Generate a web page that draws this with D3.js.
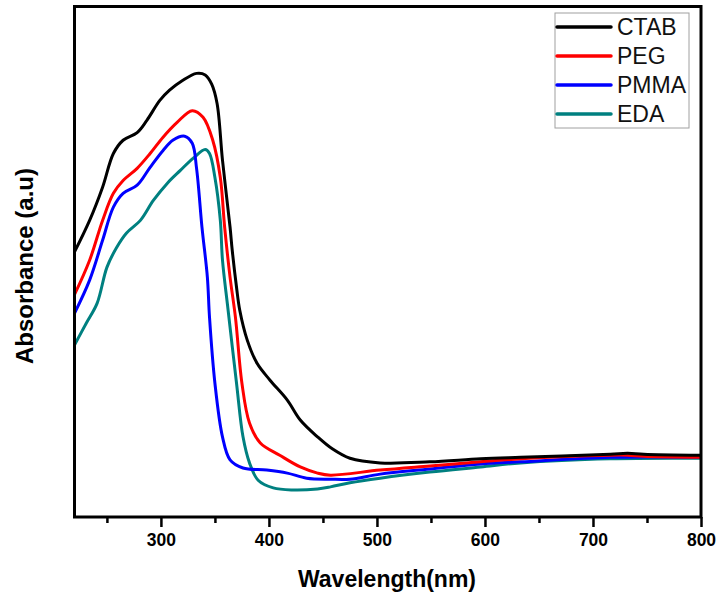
<!DOCTYPE html>
<html>
<head>
<meta charset="utf-8">
<script src="https://cdn.jsdelivr.net/npm/d3@7"></script>
<style>
  html, body { margin: 0; padding: 0; background: #fff; }
  svg { display: block; }
  text { font-family: "Liberation Sans", Arial, sans-serif; }
</style>
</head>
<body>
<svg id="chart" width="717" height="594"></svg>
<script>
// UV-Vis absorbance spectra of the four samples (wavelength in nm, absorbance in a.u.)
const seriesNames = ["CTAB", "PEG", "PMMA", "EDA"];
const seriesColors = ["#000000", "#ff0000", "#0000ff", "#008080"];

const ctabWavelength = [219, 234, 246, 256, 265, 278, 287, 299, 308, 320, 333, 341, 347, 352, 357, 364, 366, 370, 373, 380, 389, 401, 417, 429, 445, 459, 475, 503, 549, 596, 633, 716, 732, 747, 800];
const ctabAbsorbance = [0.515, 0.581, 0.646, 0.712, 0.738, 0.753, 0.777, 0.816, 0.836, 0.855, 0.869, 0.866, 0.848, 0.810, 0.699, 0.568, 0.523, 0.450, 0.405, 0.346, 0.301, 0.268, 0.229, 0.190, 0.157, 0.133, 0.115, 0.106, 0.108, 0.114, 0.117, 0.123, 0.125, 0.123, 0.121];

const pegWavelength = [219, 234, 246, 256, 265, 278, 290, 302, 315, 329, 339, 348, 355, 359, 364, 369, 375, 382, 392, 410, 429, 445, 457, 503, 549, 596, 633, 716, 732, 747, 800];
const pegAbsorbance = [0.431, 0.503, 0.581, 0.634, 0.659, 0.683, 0.712, 0.744, 0.773, 0.796, 0.783, 0.738, 0.665, 0.568, 0.470, 0.391, 0.262, 0.184, 0.145, 0.121, 0.098, 0.086, 0.082, 0.092, 0.100, 0.108, 0.114, 0.121, 0.121, 0.119, 0.117];

const pmmaWavelength = [220, 234, 246, 256, 265, 278, 290, 302, 311, 322, 329, 333, 338, 343, 345, 350, 357, 364, 376, 398, 417, 435, 457, 475, 503, 549, 596, 633, 716, 800];
const pmmaAbsorbance = [0.399, 0.464, 0.542, 0.607, 0.634, 0.650, 0.685, 0.718, 0.738, 0.746, 0.732, 0.683, 0.568, 0.470, 0.391, 0.262, 0.157, 0.112, 0.096, 0.092, 0.086, 0.076, 0.074, 0.074, 0.084, 0.094, 0.104, 0.108, 0.117, 0.117];

const edaWavelength = [220, 231, 241, 250, 259, 268, 281, 293, 306, 318, 330, 341, 345, 350, 355, 357, 362, 370, 376, 382, 390, 404, 422, 445, 457, 475, 503, 549, 596, 633, 716, 800];
const edaAbsorbance = [0.337, 0.380, 0.419, 0.489, 0.528, 0.556, 0.581, 0.620, 0.654, 0.679, 0.703, 0.720, 0.712, 0.665, 0.581, 0.503, 0.409, 0.262, 0.157, 0.106, 0.072, 0.057, 0.053, 0.055, 0.059, 0.067, 0.076, 0.088, 0.098, 0.106, 0.114, 0.115];

const xMajorTicks = [300, 400, 500, 600, 700, 800];
const xMinorTicks = [250, 350, 450, 550, 650, 750];

const seriesData = [
  ctabWavelength.map((w, i) => ({ w, a: ctabAbsorbance[i] })),
  pegWavelength.map((w, i) => ({ w, a: pegAbsorbance[i] })),
  pmmaWavelength.map((w, i) => ({ w, a: pmmaAbsorbance[i] })),
  edaWavelength.map((w, i) => ({ w, a: edaAbsorbance[i] }))
];

const svg = d3.select("#chart");
const plot = { left: 74.5, right: 701, top: 6.5, bottom: 517 };

const x = d3.scaleLinear().domain([220, 800]).range([plot.left, plot.right]);
const y = d3.scaleLinear().domain([0, 1]).range([plot.bottom, plot.top]);

// clip the spectra to the frame
svg.append("defs").append("clipPath").attr("id", "plotClip")
  .append("rect")
  .attr("x", plot.left).attr("y", plot.top)
  .attr("width", plot.right - plot.left).attr("height", plot.bottom - plot.top);

const line = d3.line()
  .x(d => x(d.w))
  .y(d => y(d.a))
  .curve(d3.curveCatmullRom.alpha(0.5));

// draw in reverse so CTAB sits on top
const g = svg.append("g").attr("clip-path", "url(#plotClip)");
seriesData.map((d, i) => ({ d, i })).reverse().forEach(({ d, i }) => {
  g.append("path")
    .datum(d)
    .attr("fill", "none")
    .attr("stroke", seriesColors[i])
    .attr("stroke-width", 3)
    .attr("stroke-linejoin", "round")
    .attr("d", line);
});

// bottom axis: major ticks with labels, minor ticks without
const xAxis = d3.axisBottom(x).tickValues(xMajorTicks).tickSize(10).tickSizeOuter(0).tickPadding(7).tickFormat(d3.format("d"));
const axisG = svg.append("g").attr("transform", `translate(0,${plot.bottom})`).call(xAxis);
axisG.select(".domain").remove();
axisG.selectAll(".tick line").attr("stroke", "#000").attr("stroke-width", 2.5);
axisG.selectAll(".tick text")
  .attr("fill", "#000")
  .style("font-family", "'Liberation Sans', Arial, sans-serif")
  .style("font-weight", "bold")
  .style("font-size", "17.5px");

const minorAxis = d3.axisBottom(x).tickValues(xMinorTicks).tickSize(6).tickSizeOuter(0).tickFormat("");
const minorG = svg.append("g").attr("transform", `translate(0,${plot.bottom})`).call(minorAxis);
minorG.select(".domain").remove();
minorG.selectAll(".tick line").attr("stroke", "#000").attr("stroke-width", 2.5);

// frame
svg.append("rect")
  .attr("x", plot.left).attr("y", plot.top)
  .attr("width", plot.right - plot.left).attr("height", plot.bottom - plot.top)
  .attr("fill", "none").attr("stroke", "#000").attr("stroke-width", 3);

// axis titles
svg.append("text")
  .attr("x", 387)
  .attr("y", 587)
  .attr("text-anchor", "middle")
  .style("font-weight", "bold")
  .style("font-size", "23px")
  .text("Wavelength(nm)");

svg.append("text")
  .attr("transform", "translate(33,266) rotate(-90)")
  .attr("text-anchor", "middle")
  .style("font-weight", "bold")
  .style("font-size", "24px")
  .text("Absorbance (a.u)");

// legend
const legend = svg.append("g");
legend.append("rect")
  .attr("x", 555).attr("y", 13)
  .attr("width", 134).attr("height", 115)
  .attr("fill", "#fff").attr("stroke", "#a0a0a0").attr("stroke-width", 1);

seriesNames.forEach((name, i) => {
  const cy = 27 + i * 29;
  legend.append("line")
    .attr("x1", 557).attr("x2", 611)
    .attr("y1", cy).attr("y2", cy)
    .attr("stroke", seriesColors[i]).attr("stroke-width", 3.5)
    .attr("stroke-linecap", "round");
  legend.append("text")
    .attr("x", 617).attr("y", cy + 8)
    .style("font-size", "23px")
    .attr("fill", "#111")
    .text(name);
});
</script>
</body>
</html>
